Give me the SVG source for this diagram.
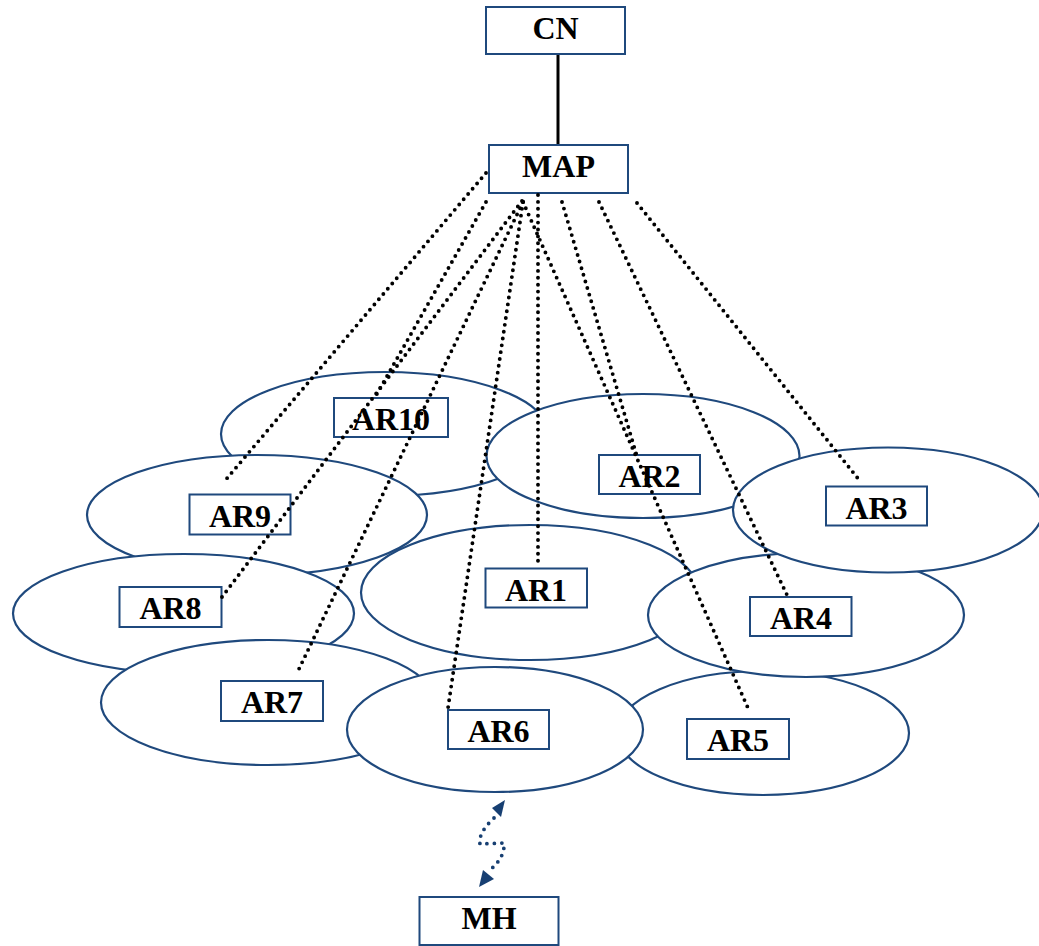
<svg xmlns="http://www.w3.org/2000/svg" width="1039" height="946" viewBox="0 0 1039 946">
<style>
.cell{fill:#fff;stroke:#1F497D;stroke-width:2.2}
.box{fill:#fff;stroke:#1F497D;stroke-width:2}
.lbl{font-family:"Liberation Serif","Times New Roman",serif;font-weight:bold;font-size:32px;fill:#000;text-anchor:middle}
.dot{fill:none;stroke:#000;stroke-width:3.9;stroke-linecap:round;stroke-dasharray:0 6.9}
.mh{fill:none;stroke:#173F72;stroke-width:3.8;stroke-linecap:round;stroke-dasharray:0 7.5}
</style>
<rect width="1039" height="946" fill="#fff"/>
<g id="cells">
<ellipse id="cell-AR10" class="cell" cx="385" cy="434" rx="164" ry="62"/>
<ellipse id="cell-AR9" class="cell" cx="257" cy="515" rx="170" ry="60"/>
<ellipse id="cell-AR8" class="cell" cx="183.5" cy="613.5" rx="170.5" ry="59.5"/>
<ellipse id="cell-AR7" class="cell" cx="268" cy="702.5" rx="167" ry="62.5"/>
<ellipse id="cell-AR2" class="cell" cx="643" cy="456" rx="156.5" ry="62"/>
<ellipse id="cell-AR1" class="cell" cx="530" cy="592.5" rx="169" ry="67.5"/>
<ellipse id="cell-AR5" class="cell" cx="763" cy="733" rx="146" ry="62"/>
<ellipse id="cell-AR6" class="cell" cx="495" cy="729.5" rx="148" ry="62.5"/>
<ellipse id="cell-AR4" class="cell" cx="806" cy="615" rx="158" ry="62"/>
<ellipse id="cell-AR3" class="cell" cx="888" cy="510" rx="155" ry="62.5"/>
</g>
<g id="wired">
<line x1="558" y1="54" x2="558" y2="145" stroke="#000" stroke-width="3"/>
</g>
<g id="CN"><rect class="box" x="486" y="7" width="139" height="47"/><text class="lbl" x="555.5" y="38.5" font-size="31">CN</text></g>
<g id="MAP"><rect class="box" x="489" y="145" width="139" height="48"/><text class="lbl" x="558.5" y="177">MAP</text></g>
<g id="AR10"><rect class="box" x="334" y="398" width="114" height="39"/><text class="lbl" x="391" y="430">AR10</text></g>
<g id="AR9"><rect class="box" x="189.5" y="494.5" width="101" height="40"/><text class="lbl" x="240" y="527">AR9</text></g>
<g id="AR8"><rect class="box" x="119.5" y="587" width="102" height="40"/><text class="lbl" x="170.5" y="619">AR8</text></g>
<g id="AR7"><rect class="box" x="221" y="681" width="102" height="40"/><text class="lbl" x="272" y="713">AR7</text></g>
<g id="AR6"><rect class="box" x="448" y="710" width="101" height="39"/><text class="lbl" x="498.5" y="742">AR6</text></g>
<g id="AR1"><rect class="box" x="485.5" y="568.5" width="101.5" height="39"/><text class="lbl" x="536" y="600.5">AR1</text></g>
<g id="AR2"><rect class="box" x="599" y="455" width="101" height="39"/><text class="lbl" x="649.5" y="487">AR2</text></g>
<g id="AR3"><rect class="box" x="826" y="486.5" width="101" height="39"/><text class="lbl" x="876.5" y="518.5">AR3</text></g>
<g id="AR4"><rect class="box" x="750" y="597" width="101.5" height="39"/><text class="lbl" x="801" y="629">AR4</text></g>
<g id="AR5"><rect class="box" x="687" y="719" width="102" height="40"/><text class="lbl" x="738" y="751">AR5</text></g>
<g id="MH"><rect class="box" x="419.5" y="897" width="139" height="48"/><text class="lbl" x="489" y="928.5">MH</text></g>
<g id="connectors">
<line class="dot" x1="486" y1="173" x2="223" y2="483"/>
<line class="dot" x1="486" y1="202" x2="374" y2="399"/>
<line class="dot" x1="522" y1="201" x2="222" y2="597"/>
<line class="dot" x1="523" y1="202" x2="298" y2="671"/>
<line class="dot" x1="523" y1="202" x2="448" y2="708"/>
<line class="dot" x1="538" y1="195" x2="538" y2="562"/>
<line class="dot" x1="523" y1="202" x2="748" y2="708"/>
<line class="dot" x1="562" y1="202" x2="638" y2="460"/>
<line class="dot" x1="599" y1="202" x2="788" y2="597"/>
<line class="dot" x1="637" y1="203" x2="860" y2="481"/>
<path class="mh" d="M 494 818 Q 478 833 480 844 L 504 843 Q 505 857 491 869"/>
<polygon points="505,800 492,808 501,817" fill="#173F72"/>
<polygon points="479,887 483,870 494,879" fill="#173F72"/>
</g>
</svg>
